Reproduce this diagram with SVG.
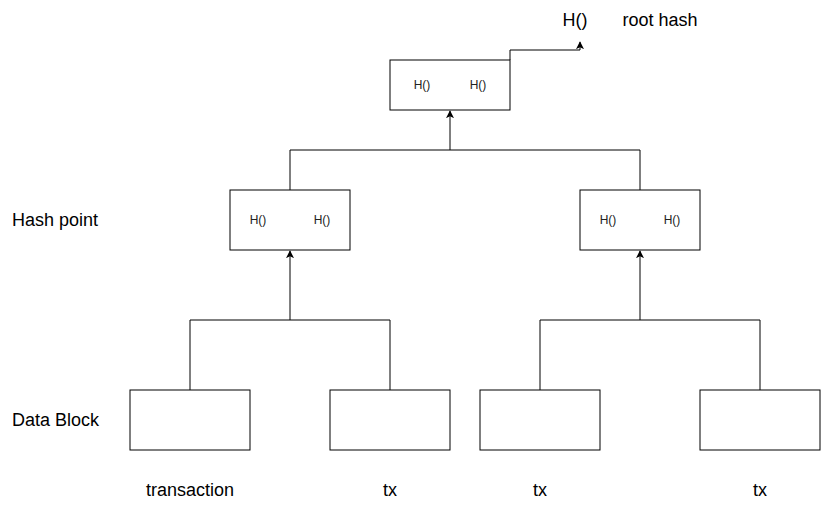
<svg xmlns="http://www.w3.org/2000/svg" width="821" height="511" viewBox="0 0 821 511">
<style>
.box{fill:#fff;stroke:#000;stroke-width:1}
.e{fill:none;stroke:#000;stroke-width:1}
.t{font-family:"Liberation Sans",Arial,sans-serif;fill:#000}
.lg{font-size:18px}
.sm{font-size:12px;fill:#222}
</style>
<defs>
<marker id="arr" viewBox="0 0 10 10" refX="9" refY="5" markerWidth="8" markerHeight="8" markerUnits="userSpaceOnUse" orient="auto">
<path d="M0,0 L10,5 L0,10 L2.5,5 Z" fill="#000"/>
</marker>
</defs>
<rect width="821" height="511" fill="#fff"/>
<g id="connectors">
<path class="e" d="M190,390 V320 H290 V251" marker-end="url(#arr)"/>
<path class="e" d="M390,390 V320 H290"/>
<path class="e" d="M540,390 V320 H640 V251" marker-end="url(#arr)"/>
<path class="e" d="M760,390 V320 H640"/>
<path class="e" d="M290,190 V150 H450 V111" marker-end="url(#arr)"/>
<path class="e" d="M640,190 V150 H450"/>
<path class="e" d="M510,60 V50 H580 V42" marker-end="url(#arr)"/>
</g>
<g id="root">
<rect class="box" x="390" y="60" width="120" height="50"/>
<text class="t sm" x="422" y="89" text-anchor="middle">H()</text>
<text class="t sm" x="478" y="89" text-anchor="middle">H()</text>
</g>
<g id="hash-left">
<rect class="box" x="230" y="190" width="120" height="60"/>
<text class="t sm" x="258" y="224" text-anchor="middle">H()</text>
<text class="t sm" x="322" y="224" text-anchor="middle">H()</text>
</g>
<g id="hash-right">
<rect class="box" x="580" y="190" width="120" height="60"/>
<text class="t sm" x="608" y="224" text-anchor="middle">H()</text>
<text class="t sm" x="672" y="224" text-anchor="middle">H()</text>
</g>
<g id="block1"><rect class="box" x="130" y="390" width="120" height="60"/></g>
<g id="block2"><rect class="box" x="330" y="390" width="120" height="60"/></g>
<g id="block3"><rect class="box" x="480" y="390" width="120" height="60"/></g>
<g id="block4"><rect class="box" x="700" y="390" width="120" height="60"/></g>
<g id="labels">
<text class="t lg" x="575" y="26" text-anchor="middle">H()</text>
<text class="t lg" x="660" y="26" text-anchor="middle">root hash</text>
<text class="t lg" x="12" y="226">Hash point</text>
<text class="t lg" x="12" y="426">Data Block</text>
<text class="t lg" x="190" y="496" text-anchor="middle">transaction</text>
<text class="t lg" x="390" y="496" text-anchor="middle">tx</text>
<text class="t lg" x="540" y="496" text-anchor="middle">tx</text>
<text class="t lg" x="760" y="496" text-anchor="middle">tx</text>
</g>
</svg>
